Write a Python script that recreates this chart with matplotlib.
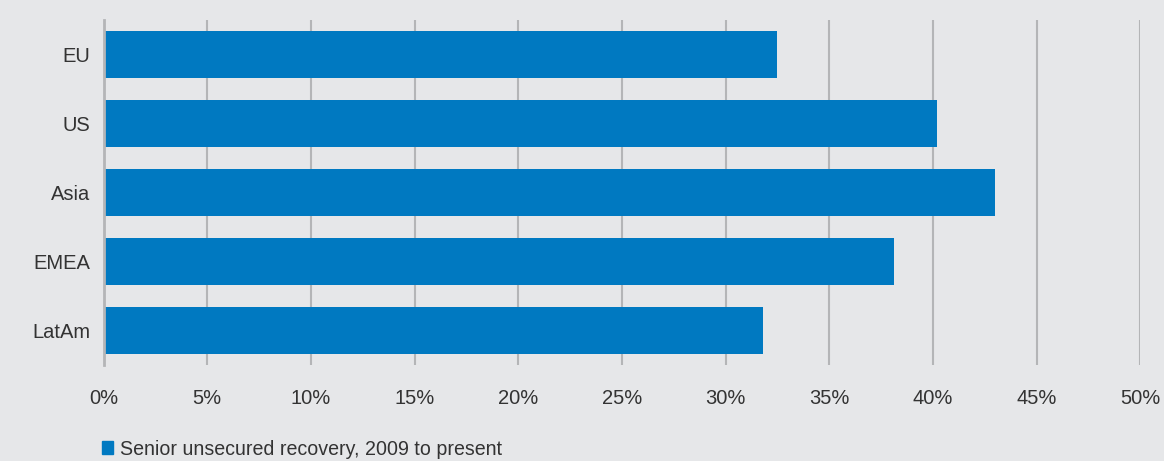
import matplotlib.pyplot as plt
from matplotlib.patches import Patch
from matplotlib.ticker import FuncFormatter

# данные
regions = ["EU", "US", "Asia", "EMEA", "LatAm"]
recovery = [32.5, 40.2, 43.0, 38.1, 31.8]
series_name = "Senior unsecured recovery, 2009 to present"

bg = "#e6e7e9"
blue = "#0079c1"
grid_col = "#b4b5b7"
txt = "#333333"

plt.rcParams['font.family'] = ['Liberation Sans', 'DejaVu Sans']

fig = plt.figure(figsize=(11.64, 4.61), dpi=100, facecolor=bg)
ax = fig.add_axes([0.089, 0.2082, 0.8906, 0.7484], facecolor=bg)

y = range(len(regions))
ax.barh(y, recovery, height=0.68, color=blue, zorder=3)

ax.set_xlim(0, 50)
ax.set_ylim(len(regions) - 0.5, -0.5)
ax.set_yticks(list(y))
ax.set_yticklabels(regions)
ax.set_xticks(range(0, 51, 5))
ax.xaxis.set_major_formatter(FuncFormatter(lambda v, p: f"{v:.0f}%"))

ax.grid(axis='x', color=grid_col, linewidth=1.5, zorder=0)
for s in ["top", "right", "bottom"]:
    ax.spines[s].set_visible(False)
ax.spines["left"].set_color(grid_col)
ax.spines["left"].set_linewidth(2)
ax.spines["left"].set_zorder(4)

ax.tick_params(axis='x', length=0, pad=17, labelsize=14.5, labelcolor=txt)
ax.tick_params(axis='y', length=0, pad=9.5, labelsize=14.5, labelcolor=txt)

fig.legend(handles=[Patch(color=blue, label=series_name)],
           loc='center left', bbox_to_anchor=(0.0805, 0.026),
           frameon=False, fontsize=14.1, labelcolor=txt,
           handlelength=0.6, handleheight=0.6, handletextpad=0.35,
           borderaxespad=0)

fig.savefig("out.png", dpi=100, facecolor=bg)
